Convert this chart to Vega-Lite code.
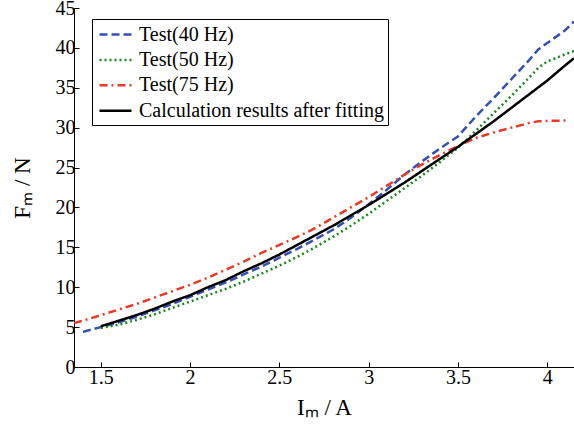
{
  "$schema": "https://vega.github.io/schema/vega-lite/v6.json",
  "width": 500,
  "height": 359,
  "autosize": {"type": "none"},
  "padding": {"left": 74, "top": 8, "right": 0, "bottom": 64},
  "config": {
    "view": {"stroke": null},
    "font": "Liberation Serif",
    "axis": {
      "grid": false,
      "domainColor": "black",
      "domainWidth": 1,
      "tickColor": "black",
      "tickSize": -5,
      "labelFont": "Liberation Serif",
      "labelFontSize": 20,
      "labelColor": "black",
      "titleFont": "Liberation Serif",
      "titleFontSize": 23,
      "titleFontWeight": "normal",
      "titleColor": "black"
    }
  },
  "data": {
    "values": [
      {"s": "Test(40 Hz)", "x": 1.40, "y": 4.4},
      {"s": "Test(40 Hz)", "x": 1.5, "y": 5.0},
      {"s": "Test(40 Hz)", "x": 1.6, "y": 5.6},
      {"s": "Test(40 Hz)", "x": 1.7, "y": 6.3},
      {"s": "Test(40 Hz)", "x": 1.8, "y": 7.1},
      {"s": "Test(40 Hz)", "x": 1.9, "y": 7.9},
      {"s": "Test(40 Hz)", "x": 2.0, "y": 8.8},
      {"s": "Test(40 Hz)", "x": 2.1, "y": 9.7},
      {"s": "Test(40 Hz)", "x": 2.2, "y": 10.6},
      {"s": "Test(40 Hz)", "x": 2.3, "y": 11.6},
      {"s": "Test(40 Hz)", "x": 2.4, "y": 12.6},
      {"s": "Test(40 Hz)", "x": 2.5, "y": 13.7},
      {"s": "Test(40 Hz)", "x": 2.6, "y": 14.8},
      {"s": "Test(40 Hz)", "x": 2.7, "y": 16.0},
      {"s": "Test(40 Hz)", "x": 2.8, "y": 17.2},
      {"s": "Test(40 Hz)", "x": 2.9, "y": 18.7},
      {"s": "Test(40 Hz)", "x": 3.0, "y": 20.4},
      {"s": "Test(40 Hz)", "x": 3.1, "y": 22.2},
      {"s": "Test(40 Hz)", "x": 3.2, "y": 24.1},
      {"s": "Test(40 Hz)", "x": 3.3, "y": 25.8},
      {"s": "Test(40 Hz)", "x": 3.4, "y": 27.4},
      {"s": "Test(40 Hz)", "x": 3.5, "y": 28.9},
      {"s": "Test(40 Hz)", "x": 3.6, "y": 31.4},
      {"s": "Test(40 Hz)", "x": 3.7, "y": 33.7},
      {"s": "Test(40 Hz)", "x": 3.8, "y": 36.1},
      {"s": "Test(40 Hz)", "x": 3.9, "y": 38.5},
      {"s": "Test(40 Hz)", "x": 3.95, "y": 39.8},
      {"s": "Test(40 Hz)", "x": 4.0, "y": 40.6},
      {"s": "Test(40 Hz)", "x": 4.1, "y": 42.2},
      {"s": "Test(40 Hz)", "x": 4.15, "y": 43.3},

      {"s": "Test(50 Hz)", "x": 1.5, "y": 4.9},
      {"s": "Test(50 Hz)", "x": 1.6, "y": 5.3},
      {"s": "Test(50 Hz)", "x": 1.7, "y": 5.9},
      {"s": "Test(50 Hz)", "x": 1.8, "y": 6.6},
      {"s": "Test(50 Hz)", "x": 1.9, "y": 7.4},
      {"s": "Test(50 Hz)", "x": 2.0, "y": 8.2},
      {"s": "Test(50 Hz)", "x": 2.1, "y": 9.0},
      {"s": "Test(50 Hz)", "x": 2.2, "y": 9.8},
      {"s": "Test(50 Hz)", "x": 2.3, "y": 10.7},
      {"s": "Test(50 Hz)", "x": 2.4, "y": 11.7},
      {"s": "Test(50 Hz)", "x": 2.5, "y": 12.7},
      {"s": "Test(50 Hz)", "x": 2.6, "y": 13.8},
      {"s": "Test(50 Hz)", "x": 2.7, "y": 15.0},
      {"s": "Test(50 Hz)", "x": 2.8, "y": 16.3},
      {"s": "Test(50 Hz)", "x": 2.9, "y": 17.7},
      {"s": "Test(50 Hz)", "x": 3.0, "y": 19.2},
      {"s": "Test(50 Hz)", "x": 3.1, "y": 20.8},
      {"s": "Test(50 Hz)", "x": 3.2, "y": 22.4},
      {"s": "Test(50 Hz)", "x": 3.3, "y": 24.0},
      {"s": "Test(50 Hz)", "x": 3.4, "y": 25.7},
      {"s": "Test(50 Hz)", "x": 3.5, "y": 27.5},
      {"s": "Test(50 Hz)", "x": 3.6, "y": 29.6},
      {"s": "Test(50 Hz)", "x": 3.7, "y": 31.8},
      {"s": "Test(50 Hz)", "x": 3.8, "y": 34.0},
      {"s": "Test(50 Hz)", "x": 3.9, "y": 36.3},
      {"s": "Test(50 Hz)", "x": 3.95, "y": 37.5},
      {"s": "Test(50 Hz)", "x": 4.0, "y": 38.3},
      {"s": "Test(50 Hz)", "x": 4.1, "y": 39.2},
      {"s": "Test(50 Hz)", "x": 4.15, "y": 39.6},

      {"s": "Test(75 Hz)", "x": 1.35, "y": 5.5},
      {"s": "Test(75 Hz)", "x": 1.4, "y": 5.8},
      {"s": "Test(75 Hz)", "x": 1.5, "y": 6.5},
      {"s": "Test(75 Hz)", "x": 1.6, "y": 7.2},
      {"s": "Test(75 Hz)", "x": 1.7, "y": 7.9},
      {"s": "Test(75 Hz)", "x": 1.8, "y": 8.7},
      {"s": "Test(75 Hz)", "x": 1.9, "y": 9.5},
      {"s": "Test(75 Hz)", "x": 2.0, "y": 10.3},
      {"s": "Test(75 Hz)", "x": 2.1, "y": 11.2},
      {"s": "Test(75 Hz)", "x": 2.2, "y": 12.2},
      {"s": "Test(75 Hz)", "x": 2.3, "y": 13.2},
      {"s": "Test(75 Hz)", "x": 2.4, "y": 14.3},
      {"s": "Test(75 Hz)", "x": 2.5, "y": 15.3},
      {"s": "Test(75 Hz)", "x": 2.6, "y": 16.3},
      {"s": "Test(75 Hz)", "x": 2.7, "y": 17.4},
      {"s": "Test(75 Hz)", "x": 2.8, "y": 18.7},
      {"s": "Test(75 Hz)", "x": 2.9, "y": 20.0},
      {"s": "Test(75 Hz)", "x": 3.0, "y": 21.3},
      {"s": "Test(75 Hz)", "x": 3.1, "y": 22.7},
      {"s": "Test(75 Hz)", "x": 3.2, "y": 24.1},
      {"s": "Test(75 Hz)", "x": 3.3, "y": 25.4},
      {"s": "Test(75 Hz)", "x": 3.4, "y": 26.6},
      {"s": "Test(75 Hz)", "x": 3.5, "y": 27.7},
      {"s": "Test(75 Hz)", "x": 3.6, "y": 28.7},
      {"s": "Test(75 Hz)", "x": 3.7, "y": 29.4},
      {"s": "Test(75 Hz)", "x": 3.8, "y": 30.0},
      {"s": "Test(75 Hz)", "x": 3.9, "y": 30.6},
      {"s": "Test(75 Hz)", "x": 3.95, "y": 30.8},
      {"s": "Test(75 Hz)", "x": 4.0, "y": 30.85},
      {"s": "Test(75 Hz)", "x": 4.11, "y": 30.9},

      {"s": "Calculation results after fitting", "x": 1.5, "y": 5.1},
      {"s": "Calculation results after fitting", "x": 1.6, "y": 5.8},
      {"s": "Calculation results after fitting", "x": 1.7, "y": 6.5},
      {"s": "Calculation results after fitting", "x": 1.8, "y": 7.3},
      {"s": "Calculation results after fitting", "x": 1.9, "y": 8.2},
      {"s": "Calculation results after fitting", "x": 2.0, "y": 9.0},
      {"s": "Calculation results after fitting", "x": 2.1, "y": 10.0},
      {"s": "Calculation results after fitting", "x": 2.2, "y": 10.9},
      {"s": "Calculation results after fitting", "x": 2.3, "y": 12.0},
      {"s": "Calculation results after fitting", "x": 2.4, "y": 13.0},
      {"s": "Calculation results after fitting", "x": 2.5, "y": 14.1},
      {"s": "Calculation results after fitting", "x": 2.6, "y": 15.3},
      {"s": "Calculation results after fitting", "x": 2.7, "y": 16.5},
      {"s": "Calculation results after fitting", "x": 2.8, "y": 17.7},
      {"s": "Calculation results after fitting", "x": 2.9, "y": 19.0},
      {"s": "Calculation results after fitting", "x": 3.0, "y": 20.3},
      {"s": "Calculation results after fitting", "x": 3.1, "y": 21.7},
      {"s": "Calculation results after fitting", "x": 3.2, "y": 23.1},
      {"s": "Calculation results after fitting", "x": 3.3, "y": 24.6},
      {"s": "Calculation results after fitting", "x": 3.4, "y": 26.1},
      {"s": "Calculation results after fitting", "x": 3.5, "y": 27.6},
      {"s": "Calculation results after fitting", "x": 3.6, "y": 29.2},
      {"s": "Calculation results after fitting", "x": 3.7, "y": 30.8},
      {"s": "Calculation results after fitting", "x": 3.8, "y": 32.5},
      {"s": "Calculation results after fitting", "x": 3.9, "y": 34.2},
      {"s": "Calculation results after fitting", "x": 4.0, "y": 35.9},
      {"s": "Calculation results after fitting", "x": 4.1, "y": 37.8},
      {"s": "Calculation results after fitting", "x": 4.15, "y": 38.7}
    ]
  },
  "mark": {"type": "line", "strokeWidth": 2.5, "clip": true},
  "encoding": {
    "x": {
      "field": "x",
      "type": "quantitative",
      "scale": {"domain": [1.35, 4.15], "nice": false, "zero": false},
      "axis": {
        "values": [1.5, 2, 2.5, 3, 3.5, 4],
        "format": "~g",
        "title": "Iₘ / A",
        "labelPadding": 5,
        "titlePadding": 9
      }
    },
    "y": {
      "field": "y",
      "type": "quantitative",
      "scale": {"domain": [0, 45], "nice": false},
      "axis": {
        "values": [0, 5, 10, 15, 20, 25, 30, 35, 40, 45],
        "title": "Fₘ / N",
        "labelPadding": 4,
        "titlePadding": 21
      }
    },
    "color": {
      "field": "s",
      "type": "nominal",
      "scale": {
        "domain": ["Test(40 Hz)", "Test(50 Hz)", "Test(75 Hz)", "Calculation results after fitting"],
        "range": ["#3650b0", "#1b8a1e", "#e63a2a", "#000000"]
      },
      "legend": {
        "title": null,
        "orient": "none",
        "legendX": 18,
        "legendY": 11,
        "fillColor": "white",
        "strokeColor": "black",
        "padding": 4,
        "rowPadding": 3.4,
        "labelFont": "Liberation Serif",
        "labelFontSize": 20,
        "labelColor": "black",
        "labelLimit": 400,
        "labelOffset": 20,
        "symbolType": "M-0.8,0H2.4",
        "symbolSize": 400,
        "symbolStrokeWidth": 2.5
      }
    },
    "strokeDash": {
      "field": "s",
      "type": "nominal",
      "scale": {
        "domain": ["Test(40 Hz)", "Test(50 Hz)", "Test(75 Hz)", "Calculation results after fitting"],
        "range": [[8, 4], [2, 3], [8, 4, 2, 4], [1, 0]]
      },
      "legend": {
        "title": null,
        "orient": "none",
        "legendX": 18,
        "legendY": 11
      }
    }
  }
}
